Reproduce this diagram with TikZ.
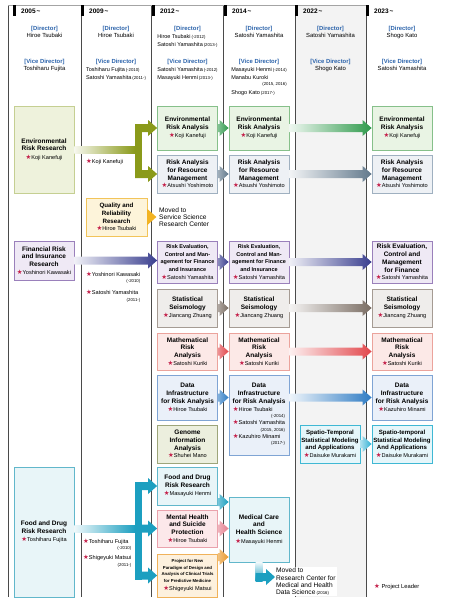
\documentclass[tikz,border=0pt]{standalone}
\usepackage{fontspec}
\setmainfont{Liberation Sans}
\setsansfont{Liberation Sans}
\newfontfamily\symfont{DejaVu Sans}
\usetikzlibrary{positioning, calc}

\definecolor{colline}{HTML}{4A4A4A}
\definecolor{colgray}{HTML}{F3F3F3}
\definecolor{headblue}{HTML}{2A62AA}
\definecolor{starred}{HTML}{C4204A}
\definecolor{envfill}{HTML}{E9F4E4}
\definecolor{envline}{HTML}{86C08A}
\definecolor{envarrow}{HTML}{2F9A4C}
\definecolor{envrfill}{HTML}{EEF2DC}
\definecolor{envrline}{HTML}{C5CF92}
\definecolor{olivearrow}{HTML}{8A9A1A}
\definecolor{resfill}{HTML}{EEF1F5}
\definecolor{resline}{HTML}{9FB0C0}
\definecolor{resarrow}{HTML}{62798C}
\definecolor{finfill}{HTML}{EFE9F5}
\definecolor{finline}{HTML}{9A80BB}
\definecolor{finarrow}{HTML}{3A3F8F}
\definecolor{seisfill}{HTML}{EFEDEB}
\definecolor{seisline}{HTML}{A59B93}
\definecolor{seisarrow}{HTML}{7A6D63}
\definecolor{mathfill}{HTML}{FCE9E7}
\definecolor{mathline}{HTML}{EBA39C}
\definecolor{matharrow}{HTML}{E2474C}
\definecolor{datafill}{HTML}{EAF0F9}
\definecolor{dataline}{HTML}{7FA4D4}
\definecolor{dataarrow}{HTML}{2F7CC4}
\definecolor{genfill}{HTML}{ECEFDE}
\definecolor{genline}{HTML}{9DA57A}
\definecolor{foodfill}{HTML}{E8F5F8}
\definecolor{foodline}{HTML}{61B7CB}
\definecolor{foodarrow}{HTML}{1C9FC0}
\definecolor{mentfill}{HTML}{FCE8EA}
\definecolor{mentline}{HTML}{EAA2AC}
\definecolor{mentarrow}{HTML}{E57F8F}
\definecolor{projfill}{HTML}{FDF1DE}
\definecolor{projline}{HTML}{F0B25A}
\definecolor{projarrow}{HTML}{E8982A}
\definecolor{qualfill}{HTML}{FDF4DA}
\definecolor{qualline}{HTML}{F2C45A}
\definecolor{qualarrow}{HTML}{F2B322}
\definecolor{spatfill}{HTML}{E6F6FA}
\definecolor{spatline}{HTML}{3FB8D4}
\definecolor{spatarrow}{HTML}{2EB0D3}

\newcommand{\titlefont}{\fontsize{6.5}{7.7}\selectfont\bfseries}
\newcommand{\namefont}{\fontsize{5.6}{6.9}\selectfont\mdseries}
\newcommand{\headfont}{\fontsize{5.9}{8.5}\selectfont}
\newcommand{\rolefont}{\fontsize{5.9}{6}\selectfont\bfseries}
\newcommand{\yearfont}{\fontsize{6.5}{7}\selectfont\bfseries}
\newcommand{\notefont}{\fontsize{6.6}{7.2}\selectfont}
\newcommand{\yrs}[1]{{\fontsize{4.3}{4.5}\selectfont\mdseries #1}}
\newcommand{\starmark}{{\fontsize{6.4}{6}\symfont\textcolor{starred}{★}}}
\newcommand{\pleader}[1]{{\namefont\starmark#1}}

% wide arrow with a colour ramp, horizontal at the height of #1, tip at the x of #2
\newcommand{\gradarrow}[4]{%
  \shade[left color=#3, right color=#4] let \p1=(#1), \p2=(#2) in
    (\x1,{\y1+4pt}) -- ({\x2-9pt},{\y1+4pt}) -- ({\x2-9pt},{\y1+8pt}) -- (\x2,\y1)
    -- ({\x2-9pt},{\y1-8pt}) -- ({\x2-9pt},{\y1-4pt}) -- (\x1,{\y1-4pt}) -- cycle;}

\begin{document}
\begin{tikzpicture}[
    x=1pt, y=-1pt,
    unit/.style={rectangle, draw, line width=0.8pt, minimum width=60pt, inner sep=1pt, align=center, font=\titlefont},
    role/.style={inner sep=0pt, font=\rolefont, text=headblue},
    person/.style={inner sep=0pt, font=\headfont, align=center},
    year/.style={inner sep=0pt, font=\yearfont, anchor=west},
    leadtext/.style={inner sep=0pt, font=\namefont, align=left},
    note/.style={inner sep=1pt, font=\notefont, align=left, anchor=west}
]
\useasboundingbox (0,0) rectangle (459,611);

% --- COLUMNS ---
\fill[colgray] (295,5) rectangle (366,597);
\foreach \cx in {8,81,151,223,295,366}
    \draw[colline, line width=0.6pt] (\cx,5) -- (\cx,597);
\draw[colline!50, line width=0.4pt] (8,5) -- (366,5);
\foreach \tx/\ylab in {13/2005, 81/2009, 152/2012, 224/2014, 295/2022, 366/2023} {
    \fill[black] (\tx,5) rectangle +(3,11);
    \node[year] (yr\ylab) at (\tx+8,11) {\ylab\,\textasciitilde};
}

% --- DIRECTORS ---
\node[role] (dir1) at (44.5,29) {[Director]};
\node[person, below=1.5pt of dir1] (dir1n) {Hiroe Tsubaki};
\node[role] (vice1) at (44.5,62) {[Vice Director]};
\node[person, below=1.5pt of vice1] (vice1n) {Toshiharu Fujita};

\node[role] (dir2) at (116,29) {[Director]};
\node[person, below=1.5pt of dir2] (dir2n) {Hiroe Tsubaki};
\node[role] (vice2) at (116,62) {[Vice Director]};
\node[person, below=0pt of vice2, font=\fontsize{5.5}{8.5}\selectfont] (vice2n) {\begin{tabular}{@{}l@{}}Toshiharu Fujita\,\yrs{(-2010)}\\Satoshi Yamashita\,\yrs{(2011-)}\end{tabular}};

\node[role] (dir3) at (187.5,29) {[Director]};
\node[person, below=0pt of dir3, font=\fontsize{5.5}{8.5}\selectfont] (dir3n) {\begin{tabular}{@{}l@{}}Hiroe Tsubaki\,\yrs{(-2012)}\\Satoshi Yamashita\,\yrs{(2013-)}\end{tabular}};
\node[role] (vice3) at (187.5,62) {[Vice Director]};
\node[person, below=0pt of vice3, font=\fontsize{5.5}{8.5}\selectfont] (vice3n) {\begin{tabular}{@{}l@{}}Satoshi Yamashita\,\yrs{(-2012)}\\Masayuki Henmi\,\yrs{(2013-)}\end{tabular}};

\node[role] (dir4) at (259,29) {[Director]};
\node[person, below=1.5pt of dir4] (dir4n) {Satoshi Yamashita};
\node[role] (vice4) at (259,62) {[Vice Director]};
\node[person, below=0pt of vice4, font=\fontsize{5.5}{8.5}\selectfont] (vice4n) {\begin{tabular}{@{}l@{}}Masayuki Henmi\,\yrs{(-2014)}\\Manabu Kuroki\\[-2.5pt]\hfill\yrs{(2015, 2016)}\\Shogo Kato\,\yrs{(2017-)}\end{tabular}};

\node[role] (dir5) at (330.5,29) {[Director]};
\node[person, below=1.5pt of dir5] (dir5n) {Satoshi Yamashita};
\node[role] (vice5) at (330.5,62) {[Vice Director]};
\node[person, below=1.5pt of vice5] (vice5n) {Shogo Kato};

\node[role] (dir6) at (402,29) {[Director]};
\node[person, below=1.5pt of dir6] (dir6n) {Shogo Kato};
\node[role] (vice6) at (402,62) {[Vice Director]};
\node[person, below=1.5pt of vice6] (vice6n) {Satoshi Yamashita};

% --- 2005 ---
\node[unit, fill=envrfill, draw=envrline, minimum height=87pt] (envres) at (44,149.5) {Environmental\\Risk Research\\[1pt]\pleader{Koji Kanefuji}};
\node[unit, fill=finfill, draw=finline, minimum height=39pt] (finres) at (44,260.5) {Financial Risk\\and Insurance\\Research\\[0pt]\pleader{Yoshinori Kawasaki}};
\node[unit, fill=foodfill, draw=foodline, minimum height=130pt] (foodres) at (44,532) {Food and Drug\\Risk Research\\[1pt]\pleader{Toshiharu Fujita}};

% --- 2009 ---
\node[leadtext, anchor=west] (kanefuji2) at (86,162) {\starmark Koji Kanefuji};
\node[unit, fill=qualfill, draw=qualline, minimum width=61pt, minimum height=38pt, font=\fontsize{6.2}{7.6}\selectfont\bfseries] (quality) at (116.5,217) {Quality and\\Reliability\\Research\\[0pt]\pleader{Hiroe Tsubaki}};
\node[note] (moved1) at (158,217) {Moved to\\Service Science\\Research Center};
\node[leadtext, anchor=north west] (kawasaki2) at (86,271) {\begin{tabular}{@{}l@{}}\starmark Yoshinori Kawasaki\\\hfill\yrs{(-2010)}\\[5pt]\starmark Satoshi Yamashita\\\hfill\yrs{(2011-)}\end{tabular}};
\node[leadtext, anchor=north west] (fujita2) at (83,538) {\begin{tabular}{@{}l@{}}\starmark Toshiharu Fujita\\\hfill\yrs{(-2010)}\\[3pt]\starmark Shigeyuki Matsui\\\hfill\yrs{(2011-)}\end{tabular}};

% --- 2012 ---
\node[unit, fill=envfill, draw=envline, minimum height=44pt] (envana3) at (187.5,128) {Environmental\\Risk Analysis\\[1pt]\pleader{Koji Kanefuji}};
\node[unit, fill=resfill, draw=resline, minimum height=38pt] (resana3) at (187.5,174) {Risk Analysis\\for Resource\\Management\\[0pt]\pleader{Atsushi Yoshimoto}};
\node[unit, fill=finfill, draw=finline, minimum height=42pt, font=\fontsize{5.5}{7.6}\selectfont\bfseries] (riskev3) at (187.5,262) {Risk Evaluation,\\Control and Man-\\agement for Finance\\and Insurance\\[0pt]\pleader{Satoshi Yamashita}};
\node[unit, fill=seisfill, draw=seisline, minimum height=38pt] (seis3) at (187.5,308) {Statistical\\Seismology\\[1pt]\pleader{Jiancang Zhuang}};
\node[unit, fill=mathfill, draw=mathline, minimum height=37pt] (math3) at (187.5,351.5) {Mathematical\\Risk\\Analysis\\[0pt]\pleader{Satoshi Kuriki}};
\node[unit, fill=datafill, draw=dataline, minimum height=45pt] (data3) at (187.5,397.5) {Data\\Infrastructure\\for Risk Analysis\\[1pt]\pleader{Hiroe Tsubaki}};
\node[unit, fill=genfill, draw=genline, minimum height=38pt] (genome3) at (187.5,444) {Genome\\Information\\Analysis\\[0pt]\pleader{Shuhei Mano}};
\node[unit, fill=foodfill, draw=foodline, minimum height=38pt] (food3) at (187.5,486) {Food and Drug\\Risk Research\\[1pt]\pleader{Masayuki Henmi}};
\node[unit, fill=mentfill, draw=mentline, minimum height=37pt] (mental3) at (187.5,528.5) {Mental Health\\and Suicide\\Protection\\[0pt]\pleader{Hiroe Tsubaki}};
\node[unit, fill=projfill, draw=projline, minimum height=43pt, font=\fontsize{4.3}{6.8}\selectfont\bfseries] (proj3) at (187.5,575.5) {Project for New\\Paradigm of Design and\\Analysis of Clinical Trials\\for Predictive Medicine\\[1pt]\pleader{Shigeyuki Matsui}};

% --- 2014 ---
\node[unit, fill=envfill, draw=envline, minimum height=44pt] (envana4) at (259,128) {Environmental\\Risk Analysis\\[1pt]\pleader{Koji Kanefuji}};
\node[unit, fill=resfill, draw=resline, minimum height=38pt] (resana4) at (259,174) {Risk Analysis\\for Resource\\Management\\[0pt]\pleader{Atsushi Yoshimoto}};
\node[unit, fill=finfill, draw=finline, minimum height=42pt, font=\fontsize{5.5}{7.6}\selectfont\bfseries] (riskev4) at (259,262) {Risk Evaluation,\\Control and Man-\\agement for Finance\\and Insurance\\[0pt]\pleader{Satoshi Yamashita}};
\node[unit, fill=seisfill, draw=seisline, minimum height=38pt] (seis4) at (259,308) {Statistical\\Seismology\\[1pt]\pleader{Jiancang Zhuang}};
\node[unit, fill=mathfill, draw=mathline, minimum height=37pt] (math4) at (259,351.5) {Mathematical\\Risk\\Analysis\\[0pt]\pleader{Satoshi Kuriki}};
\node[unit, fill=datafill, draw=dataline, minimum height=80pt] (data4) at (259,415) {Data\\Infrastructure\\for Risk Analysis\\[1pt]\namefont\begin{tabular}{@{}l@{}}\starmark Hiroe Tsubaki\\[-0.5pt]\hfill\yrs{(-2014)}\\\starmark Satoshi Yamashita\\[-0.5pt]\hfill\yrs{(2015, 2016)}\\\starmark Kazuhiro Minami\\[-0.5pt]\hfill\yrs{(2017-)}\end{tabular}};
\node[unit, fill=foodfill, draw=foodline, minimum height=65pt] (medical) at (259,529.5) {Medical Care\\and\\Health Science\\[1pt]\pleader{Masayuki Henmi}};
\node[note, anchor=north west, fill=white] (moved2) at (275,567) {Moved to\\Research Center for\\Medical and Health\\Data Science\,\yrs{(2016)}};

% --- 2022 ---
\node[unit, fill=spatfill, draw=spatline, minimum height=38pt, font=\fontsize{6.1}{7.6}\selectfont\bfseries] (spatio5) at (330,444) {Spatio-Temporal\\Statistical Modeling\\and Applications\\[0pt]\pleader{Daisuke Murakami}};

% --- 2023 ---
\node[unit, fill=envfill, draw=envline, minimum height=44pt] (envana6) at (402,128) {Environmental\\Risk Analysis\\[1pt]\pleader{Koji Kanefuji}};
\node[unit, fill=resfill, draw=resline, minimum height=38pt] (resana6) at (402,174) {Risk Analysis\\for Resource\\Management\\[0pt]\pleader{Atsushi Yoshimoto}};
\node[unit, fill=finfill, draw=finline, minimum height=42pt] (riskev6) at (402,262) {Risk Evaluation,\\Control and\\Management\\for Finance\\[0pt]\pleader{Satoshi Yamashita}};
\node[unit, fill=seisfill, draw=seisline, minimum height=38pt] (seis6) at (402,308) {Statistical\\Seismology\\[1pt]\pleader{Jiancang Zhuang}};
\node[unit, fill=mathfill, draw=mathline, minimum height=37pt] (math6) at (402,351.5) {Mathematical\\Risk\\Analysis\\[0pt]\pleader{Satoshi Kuriki}};
\node[unit, fill=datafill, draw=dataline, minimum height=45pt] (data6) at (402,397.5) {Data\\Infrastructure\\for Risk Analysis\\[1pt]\pleader{Kazuhiro Minami}};
\node[unit, fill=spatfill, draw=spatline, minimum height=38pt, font=\fontsize{6.1}{7.6}\selectfont\bfseries] (spatio6) at (402,444) {Spatio-temporal\\Statistical Modeling\\And Applications\\[0pt]\pleader{Daisuke Murakami}};

\node[leadtext, anchor=west, font=\fontsize{5.8}{6}\selectfont] (legend) at (374,587) {\starmark\ Project Leader};

% --- CONNECTIONS ---

% 1. environmental research splits in two
\coordinate (envfork) at (135,0);
\shade[left color=olivearrow!8, right color=olivearrow] ($(envres.east)+(0,-3.5)$) rectangle ($(envfork |- envres.east)+(0,3.5)$);
\fill[olivearrow] ($(envfork |- envana3.west)+(0,-4)$) rectangle ($(envfork |- resana3.west)+(7,4)$);
\gradarrow{envfork |- envana3.west}{envana3.west}{olivearrow}{olivearrow}
\gradarrow{envfork |- resana3.west}{resana3.west}{olivearrow}{olivearrow}

% 2. quality and reliability leaves
\gradarrow{quality.east}{$(quality.east)+(9,0)$}{qualarrow}{qualarrow}

% 3. financial risk
\gradarrow{finres.east}{riskev3.west}{finarrow!8}{finarrow}

% 4. food and drug splits in three
\coordinate (foodfork) at (135,0);
\shade[left color=foodarrow!8, right color=foodarrow] ($(foodres.east |- mental3.west)+(0,-3.5)$) rectangle ($(foodfork |- mental3.west)+(0,3.5)$);
\fill[foodarrow] ($(foodfork |- food3.west)+(0,-4)$) rectangle ($(foodfork |- proj3.west)+(7,4)$);
\gradarrow{foodfork |- food3.west}{food3.west}{foodarrow}{foodarrow}
\gradarrow{foodfork |- mental3.west}{mental3.west}{foodarrow}{foodarrow}
\gradarrow{foodfork |- proj3.west}{proj3.west}{foodarrow}{foodarrow}

% 5. 2012 -> 2014
\gradarrow{envana3.east}{envana4.west}{envarrow!60}{envarrow}
\gradarrow{resana3.east}{resana4.west}{resarrow!60}{resarrow}
\gradarrow{riskev3.east}{riskev4.west}{finarrow!60}{finarrow}
\gradarrow{seis3.east}{seis4.west}{seisarrow!60}{seisarrow}
\gradarrow{math3.east}{math4.west}{matharrow!60}{matharrow}
\gradarrow{data3.east}{data4.west}{dataarrow!60}{dataarrow}
\coordinate (fdlevel) at (0,502);
\coordinate (pjlevel) at (0,557);
\gradarrow{food3.east |- fdlevel}{medical.west}{foodarrow!60}{foodarrow}
\gradarrow{mental3.east}{medical.west}{mentarrow!60}{mentarrow}
\gradarrow{proj3.east |- pjlevel}{medical.west}{projarrow!60}{projarrow}

% 6. medical care leaves
\coordinate (medturn) at (259,577);
\shade[top color=foodarrow!8, bottom color=foodarrow] ($(medical.south)+(-3.5,0)$) rectangle ($(medturn)+(3.5,4)$);
\gradarrow{$(medturn)+(-3.5,0)$}{moved2.west}{foodarrow}{foodarrow}

% 7. 2014 -> 2023
\gradarrow{envana4.east}{envana6.west}{envarrow!8}{envarrow}
\gradarrow{resana4.east}{resana6.west}{resarrow!8}{resarrow}
\gradarrow{riskev4.east}{riskev6.west}{finarrow!8}{finarrow}
\gradarrow{seis4.east}{seis6.west}{seisarrow!8}{seisarrow}
\gradarrow{math4.east}{math6.west}{matharrow!8}{matharrow}
\gradarrow{data4.east |- data6.west}{data6.west}{dataarrow!8}{dataarrow}

% 8. 2022 -> 2023
\gradarrow{spatio5.east}{spatio6.west}{spatarrow!40}{spatarrow}

\end{tikzpicture}
\end{document}
